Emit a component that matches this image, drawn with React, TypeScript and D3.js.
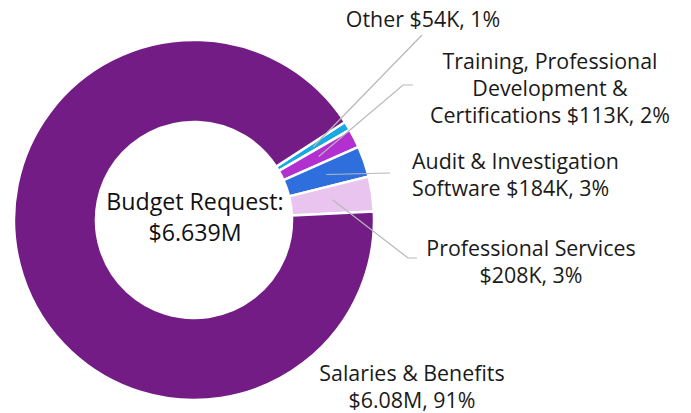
import React from "react";
import { pie, arc, PieArcDatum } from "d3";

const categories = [
  "Other",
  "Training, Professional Development & Certifications",
  "Audit & Investigation Software",
  "Professional Services",
  "Salaries & Benefits",
];
const amounts = [54, 113, 184, 208, 6080]; // $K
const amountLabels = ["$54K", "$113K", "$184K", "$208K", "$6.08M"];
const percentLabels = ["1%", "2%", "3%", "3%", "91%"];
const colors = ["#17a9e1", "#b22fd0", "#2e6fdd", "#e9c4ef", "#741c86"];
const centerLines = ["Budget Request:", "$6.639M"];

// label layout (text lines + anchor), separate from the data
const labelLayout = [
  { lines: ["Other $54K, 1%"], x: 423, y: 18, anchor: "middle", elbow: [422, 35, 422, 35] },
  {
    lines: ["Training, Professional", "Development &", "Certifications $113K, 2%"],
    x: 550, y: 60, anchor: "middle", elbow: [403, 85, 413, 85],
  },
  {
    lines: ["Audit & Investigation", "Software $184K, 3%"],
    x: 412, y: 160, anchor: "start", elbow: [390, 173, 390, 173],
  },
  {
    lines: ["Professional Services", "$208K, 3%"],
    x: 531, y: 247, anchor: "middle", elbow: [408, 258, 417, 258],
  },
  { lines: ["Salaries & Benefits", "$6.08M, 91%"], x: 412, y: 372, anchor: "middle", elbow: null },
];

const W = 691;
const H = 413;
const cx = 194;
const cy = 220;
const outerR = 180;
const innerR = 98;
const startDeg = 57;
const font = "'Open Sans', sans-serif";
const lineGap = 27;

type Row = { name: string; value: number; i: number };

export default function App() {
  const rows: Row[] = categories.map((name, i) => ({ name, value: amounts[i], i }));
  const start = (startDeg * Math.PI) / 180;
  const arcs = pie<Row>()
    .value((d) => d.value)
    .sort(null)
    .startAngle(start)
    .endAngle(start + 2 * Math.PI)(rows);

  const slice = arc<PieArcDatum<Row>>().innerRadius(innerR).outerRadius(outerR);

  return (
    <svg width={W} height={H} style={{ position: "absolute", left: 0, top: 0, background: "#fff" }}>
      <g transform={`translate(${cx},${cy})`}>
        {arcs.map((a) => (
          <path key={a.data.name} d={slice(a) || ""} fill={colors[a.data.i]} stroke="#fff" strokeWidth={2.5} />
        ))}
      </g>
      {/* leader lines from slice to label */}
      {arcs.filter((a) => labelLayout[a.data.i].elbow).map((a) => {
        const mid = (a.startAngle + a.endAngle) / 2;
        const sx = cx + 140 * Math.sin(mid);
        const sy = cy - 140 * Math.cos(mid);
        const e = labelLayout[a.data.i].elbow as number[];
        const pts = [[sx, sy], [e[0], e[1]], [e[2], e[3]]];
        return (
          <polyline
            key={"l" + a.data.name}
            points={pts.map((p) => p.join(",")).join(" ")}
            fill="none"
            stroke="#b8b8b8"
            strokeWidth={1.2}
          />
        );
      })}
      {labelLayout.map((l, i) => (
        <text key={"t" + i} fontFamily={font} fontSize={21.4} fill="#1a1a1a" textAnchor={l.anchor as any}>
          {l.lines.map((ln, j) => (
            <tspan key={j} x={l.x} y={l.y + j * lineGap} dominantBaseline="central">
              {ln}
            </tspan>
          ))}
        </text>
      ))}
      <text fontFamily={font} fontSize={23.2} fontWeight={500} fill="#111" textAnchor="middle">
        {centerLines.map((ln, j) => (
          <tspan key={j} x={cx + 1} y={201 + j * 31} dominantBaseline="central">
            {ln}
          </tspan>
        ))}
      </text>
    </svg>
  );
}
